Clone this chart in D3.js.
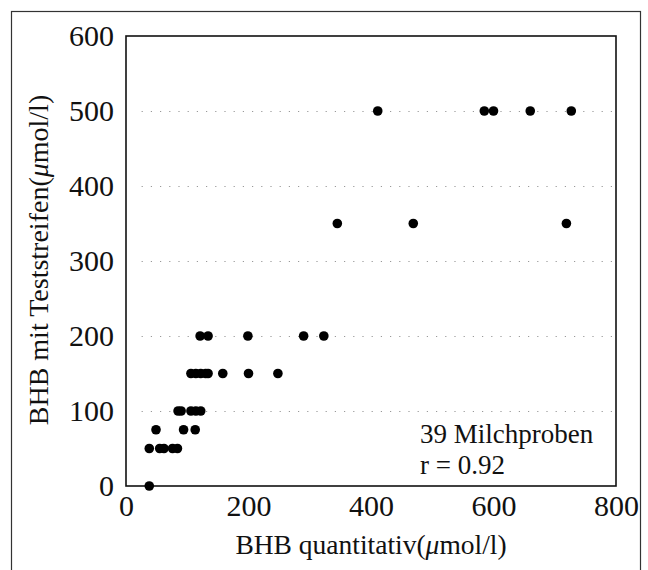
<!DOCTYPE html>
<html>
<head>
<meta charset="utf-8">
<script src="https://cdn.jsdelivr.net/npm/d3@7"></script>
<style>
  body { margin: 0; background: #fff; }
  text { font-family: "Liberation Serif", "DejaVu Serif", serif; fill: #111; }
  .gridlines line { stroke: #999; stroke-dasharray: 1.2, 8; }
  .gridlines path { display: none; }
  .axis path, .axis line { display: none; }
  .points { fill: #000; }
</style>
</head>
<body>
<svg id="chart" width="648" height="570"></svg>
<script>
// BHB quantitativ (µmol/l) vs. Teststreifen (µmol/l)
const bhbQuant = [
  411, 585, 600, 660, 727,
  345, 469, 719,
  121, 134, 199, 290, 323,
  106, 114, 122, 130, 134, 158, 200, 248,
  85, 90, 106, 114, 122,
  49, 94, 113,
  38, 55, 62, 76, 84,
  38
];
const bhbStrip = [
  500, 500, 500, 500, 500,
  350, 350, 350,
  200, 200, 200, 200, 200,
  150, 150, 150, 150, 150, 150, 150, 150,
  100, 100, 100, 100, 100,
  75, 75, 75,
  50, 50, 50, 50, 50,
  0
];
const xTicks = [0, 200, 400, 600, 800];
const yTicks = [0, 100, 200, 300, 400, 500, 600];
const gridTicks = [100, 200, 300, 400, 500];

const margins = { top: 36, right: 32, bottom: 84, left: 126 };
const svg = d3.select("#chart");
const chartWidth = svg.attr("width") - margins.left - margins.right;
const chartHeight = svg.attr("height") - margins.top - margins.bottom;

// outer frame
svg.append("rect")
  .attr("x", 11.5).attr("y", 11.5)
  .attr("width", 629).attr("height", 570)
  .attr("fill", "none").attr("stroke", "#333").attr("stroke-width", 1.2);

const xScale = d3.scaleLinear().domain([0, 800]).range([0, chartWidth]);
const yScale = d3.scaleLinear().domain([0, 600]).range([chartHeight, 0]);

const chartArea = svg.append("g")
  .attr("transform", `translate(${margins.left},${margins.top})`);

// dotted horizontal gridlines
chartArea.append("g")
  .attr("class", "gridlines")
  .attr("transform", `translate(${chartWidth - 4},0)`)
  .call(d3.axisLeft(yScale).tickValues(gridTicks).tickSize(chartWidth - 12).tickFormat(""));

// plot frame
chartArea.append("rect")
  .attr("width", chartWidth).attr("height", chartHeight)
  .attr("fill", "none").attr("stroke", "#111").attr("stroke-width", 1.6);

// axes (labels only)
chartArea.append("g")
  .attr("class", "axis")
  .call(d3.axisLeft(yScale).tickValues(yTicks).tickSize(0).tickPadding(12))
  .selectAll("text").attr("font-size", 30).attr("font-family", "Liberation Serif");
chartArea.append("g")
  .attr("class", "axis")
  .attr("transform", `translate(0,${chartHeight})`)
  .call(d3.axisBottom(xScale).tickValues(xTicks).tickSize(0).tickPadding(9))
  .selectAll("text").attr("font-size", 30).attr("font-family", "Liberation Serif");

// points
chartArea.selectAll("circle")
  .data(bhbQuant)
  .join("circle")
  .attr("class", "points")
  .attr("cx", (d) => xScale(d))
  .attr("cy", (d, i) => yScale(bhbStrip[i]))
  .attr("r", 4.8);

// axis titles
const xLabel = svg.append("text")
  .attr("x", margins.left + chartWidth / 2)
  .attr("y", 554)
  .attr("text-anchor", "middle")
  .attr("font-size", 27.5);
xLabel.append("tspan").text("BHB quantitativ(");
xLabel.append("tspan").attr("font-style", "italic").text("μ");
xLabel.append("tspan").text("mol/l)");

const yLabel = svg.append("text")
  .attr("transform", `translate(48, ${margins.top + chartHeight / 2 - 1}) rotate(-90)`)
  .attr("text-anchor", "middle")
  .attr("font-size", 28);
yLabel.append("tspan").text("BHB mit Teststreifen(");
yLabel.append("tspan").attr("font-style", "italic").text("μ");
yLabel.append("tspan").text("mol/l)");

// annotation
const note = chartArea.append("g").attr("transform", `translate(${xScale(480)},0)`);
note.append("text").attr("y", yScale(58)).attr("font-size", 27).text("39 Milchproben");
note.append("text").attr("y", yScale(16)).attr("font-size", 27).text("r = 0.92");
</script>
</body>
</html>
